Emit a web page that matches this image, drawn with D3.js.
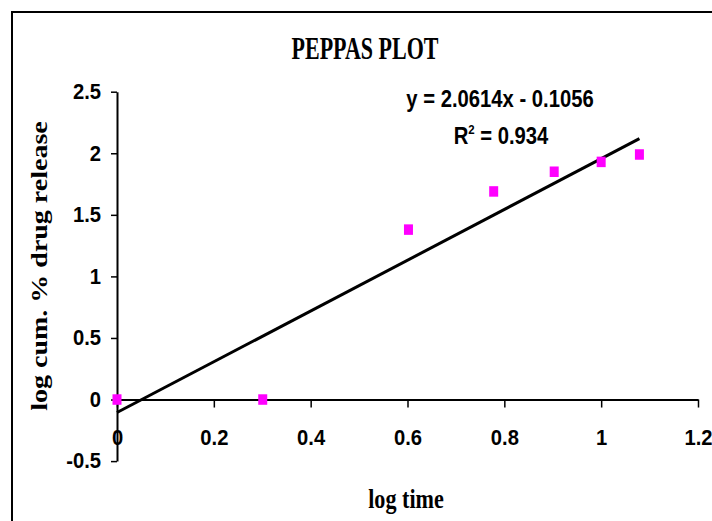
<html>
<head>
<script src="https://cdn.jsdelivr.net/npm/d3@7"></script>
<style>
    body { margin: 0; background: #fff; overflow: hidden; }
    text { fill: #000; }
</style>
</head>
<body>
    <svg id="container" width="712" height="521"></svg>
<script>
    // data
    let logTime = [0, 0.301, 0.602, 0.778, 0.903, 1.0, 1.079]
    let logRelease = [0, 0, 1.38, 1.69, 1.85, 1.93, 1.99]
    let xTicks = [0, 0.2, 0.4, 0.6, 0.8, 1, 1.2]
    let xTickLabels = ["0", "0.2", "0.4", "0.6", "0.8", "1", "1.2"]
    let yTicks = [-0.5, 0, 0.5, 1, 1.5, 2, 2.5]
    let yTickLabels = ["-0.5", "0", "0.5", "1", "1.5", "2", "2.5"]
    let slope = 2.0614
    let intercept = -0.1056
    let rSquared = 0.934

    let container = d3.select("#container")
    let sans = "'Liberation Sans', Arial, sans-serif"
    let serif = "'Liberation Serif', 'Times New Roman', serif"
    let squeeze = 0.94

    // chart frame: only the left and top edges show, the rest runs off the page
    container.append("path")
        .attr("d", "M12,521V12H712")
        .attr("fill", "none")
        .attr("stroke", "#000")
        .attr("stroke-width", 2)

    let x = d3.scaleLinear()
        .domain([0, 1.2])
        .range([117, 698])

    let y = d3.scaleLinear()
        .domain([-0.5, 2.5])
        .range([461.1, 91.7])

    let xAxis = container.append("g")
        .attr("transform", `translate(0,${y(0)})`)
        .call(d3.axisBottom(x)
            .tickValues(xTicks)
            .tickFormat((d, i) => xTickLabels[i])
            .tickSizeInner(8)
            .tickSizeOuter(0))

    let yAxis = container.append("g")
        .attr("transform", `translate(${x(0)},0)`)
        .call(d3.axisLeft(y)
            .tickValues(yTicks)
            .tickFormat((d, i) => yTickLabels[i])
            .tickSizeInner(6)
            .tickSizeOuter(0)
            .tickPadding(10))

    container.selectAll(".domain")
        .attr("stroke", "#000")
        .attr("stroke-width", 2)
    container.selectAll(".tick line")
        .attr("stroke", "#000")
        .attr("stroke-width", 1.5)
    container.selectAll(".tick text")
        .attr("fill", "#000")
        .style("font-family", sans)
        .style("font-size", "21.5px")
        .style("font-weight", "bold")

    xAxis.selectAll(".tick text")
        .attr("dy", null)
        .attr("y", 45)
        .attr("transform", `scale(${squeeze},1)`)

    yAxis.selectAll(".tick text")
        .attr("x", -16 / squeeze)
        .attr("transform", `scale(${squeeze},1)`)

    // trend line
    let lineEnd = d3.max(logTime)
    container.append("line")
        .attr("x1", x(0))
        .attr("y1", y(intercept))
        .attr("x2", x(lineEnd))
        .attr("y2", y(slope * lineEnd + intercept))
        .attr("stroke", "#000")
        .attr("stroke-width", 3)

    // points
    let points = logTime.map((t, i) => ({ t: t, r: logRelease[i] }))
    container.selectAll("rect.pt")
        .data(points)
        .enter()
        .append("rect")
        .attr("class", "pt")
        .attr("x", d => x(d.t) - 4.5)
        .attr("y", d => y(d.r) - 5.25)
        .attr("width", 9)
        .attr("height", 10.5)
        .attr("fill", "#ff00ff")

    // title
    container.append("text")
        .attr("transform", "translate(365,59) scale(0.71,1)")
        .attr("text-anchor", "middle")
        .style("font-family", serif)
        .style("font-weight", "bold")
        .style("font-size", "31px")
        .text("PEPPAS PLOT")

    // axis titles
    container.append("text")
        .attr("transform", "translate(406,508) scale(0.82,1)")
        .attr("text-anchor", "middle")
        .style("font-family", serif)
        .style("font-weight", "bold")
        .style("font-size", "27px")
        .text("log time")

    container.append("text")
        .attr("transform", "translate(46.7,266) rotate(-90) scale(1,0.82)")
        .attr("text-anchor", "middle")
        .style("font-family", serif)
        .style("font-weight", "bold")
        .style("font-size", "28px")
        .text("log cum. % drug release")

    // equation and R squared
    container.append("text")
        .attr("transform", "translate(500,106.5) scale(0.88,1)")
        .attr("text-anchor", "middle")
        .style("font-family", sans)
        .style("font-weight", "bold")
        .style("font-size", "23px")
        .text(`y = ${slope}x - ${Math.abs(intercept)}`)

    let r2 = container.append("text")
        .attr("transform", "translate(501,144) scale(0.88,1)")
        .attr("text-anchor", "middle")
        .style("font-family", sans)
        .style("font-weight", "bold")
        .style("font-size", "23px")
    r2.append("tspan").text("R")
    r2.append("tspan")
        .attr("dy", -10)
        .style("font-size", "13px")
        .text("2")
    r2.append("tspan")
        .attr("dy", 10)
        .text(` = ${rSquared}`)
</script>
</body>
</html>
